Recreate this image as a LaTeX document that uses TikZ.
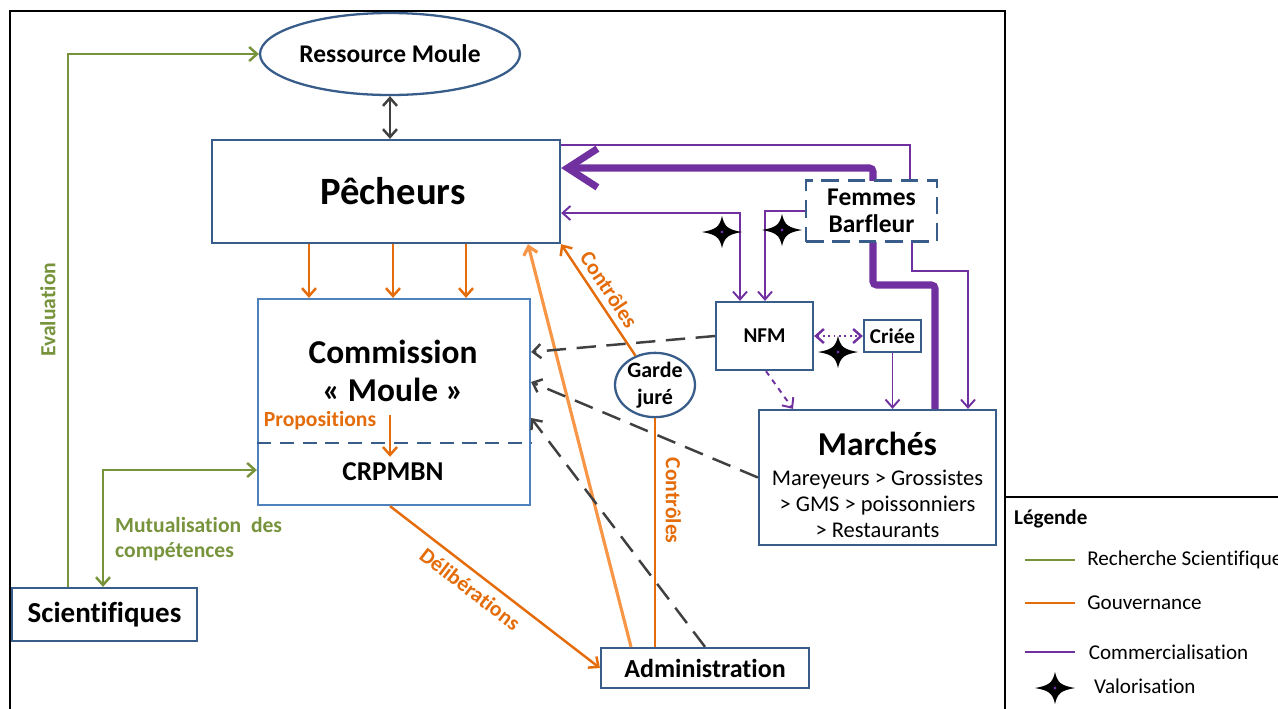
\documentclass[tikz,border=0pt]{standalone}
\usepackage{fontspec}
\setmainfont{Carlito}[Ligatures=NoCommon]
\usetikzlibrary{arrows.meta,shapes.geometric,backgrounds}
\definecolor{boxblue}{HTML}{385D8A}
\definecolor{lightblue}{HTML}{4F81BD}
\definecolor{rechgreen}{HTML}{77933C}
\definecolor{govorange}{HTML}{E46C0A}
\definecolor{govlight}{HTML}{F79646}
\definecolor{compurple}{HTML}{7030A0}
\definecolor{dgrey}{HTML}{404040}

\begin{document}
\begin{tikzpicture}[x=0.02cm,y=-0.02cm,
  >={Straight Barb[length=4.5pt,width=8pt]},
  box/.style={draw=boxblue,line width=1.3pt,fill=white,inner sep=0pt,align=center,font=\bfseries\fontsize{12}{15}\selectfont},
  rech/.style={rechgreen,line width=1.4pt},
  gov/.style={govorange,line width=1.4pt},
  govl/.style={govlight,line width=1.8pt},
  com/.style={compurple,line width=1.1pt},
  comthick/.style={compurple,line width=4pt,rounded corners=2pt},
  dashgrey/.style={dgrey,line width=1.4pt,dash pattern=on 11pt off 6pt},
  lab/.style={font=\bfseries\fontsize{12.3}{14.5}\selectfont},
  valo/.pic={
    \fill[black] (-20,0) .. controls (-6,-2.5) and (-2.5,-5) .. (0,-16) .. controls (2.5,-5) and (6,-2.5) .. (20,0)
      .. controls (6,2.5) and (2.5,5) .. (0,16) .. controls (-2.5,5) and (-6,2.5) .. (-20,0) -- cycle;
    \fill[compurple] (0,0) circle (0.9pt);
  }]
  \useasboundingbox (0,0) rectangle (1278,708);
  % cadres
  \draw[line width=1.2pt] (10,11) rectangle (1005,720);
  \draw[line width=1.2pt] (1005,497) rectangle (1290,720);

  % acteurs
  \node[box,ellipse,minimum width=5.2cm,minimum height=1.64cm,font=\bfseries\fontsize{14.5}{17}\selectfont] (ress) at (390,54) {Ressource Moule};
  \node[box,minimum width=6.96cm,minimum height=2.06cm] (pech) at (386,191.5) {};
  \node[font=\bfseries\fontsize{22}{26}\selectfont] (pechtxt) at (393,191) {Pêcheurs};
  \node[box,draw=lightblue,minimum width=5.44cm,minimum height=4.12cm] (comm) at (394,402) {};
  \node[font=\bfseries\fontsize{19}{22}\selectfont,align=center] (commtxt) at (393,371) {Commission\\«~Moule~»};
  \node[font=\bfseries\fontsize{15.5}{18}\selectfont] (crpm) at (393,472) {CRPMBN};
  \node[lab,govorange] (prop) at (320,421) {Propositions};
  \node[box,minimum width=3.7cm,minimum height=1.06cm,font=\bfseries\fontsize{16.5}{19}\selectfont] (sci) at (104.5,614.5) {Scientifiques};
  \node[box,minimum width=4.16cm,minimum height=0.8cm,font=\bfseries\fontsize{14.8}{17}\selectfont] (admin) at (705,668) {Administration};
  \node[box,ellipse,minimum width=1.6cm,minimum height=1.28cm,font=\bfseries\fontsize{12.5}{15}\selectfont] (garde) at (655,385) {Garde\\juré};
  \node[box,minimum width=1.94cm,minimum height=1.36cm] (nfm) at (764.5,336) {NFM};
  \node[box,minimum width=1.14cm,minimum height=0.64cm] (criee) at (892.5,336) {Criée};
  \node[box,dash pattern=on 10pt off 5pt,minimum width=2.62cm,minimum height=1.22cm,font=\bfseries\fontsize{14.5}{15}\selectfont] (femmes) at (871.5,211) {Femmes\\Barfleur};
  \node[box,minimum width=4.74cm,minimum height=2.7cm] (march) at (877.5,477.5) {};
  \node[align=center,font=\fontsize{12.8}{15}\selectfont] (marchtxt) at (877.5,485)
    {{\bfseries\fontsize{19}{21}\selectfont Marchés}\\[2pt] Mareyeurs > Grossistes\\ > GMS > poissonniers\\ > Restaurants};

  \draw[boxblue,line width=1.3pt,dash pattern=on 8pt off 5pt] (comm.west |- 0,443) -- (comm.east |- 0,443);

  % recherche scientifique
  \draw[rech,->] (sci.north -| 68,0) |- node[pos=.26,sloped,above=3pt,lab] {Evaluation} (ress.west);
  \draw[rech,<->] (sci.north -| 103,0) |- (comm.west |- 0,470);
  \node[lab,rechgreen,align=left,anchor=north west] (mutu) at (109,511) {Mutualisation~~des\\compétences};

  % gouvernance
  \draw[dgrey,line width=1.4pt,<->] (ress.south) -- (ress.south |- pech.north);
  \foreach \x in {309,393,466}
    \draw[gov,->] (pech.south -| \x,0) -- (comm.north -| \x,0);
  \coordinate (propsrc) at (390,415);
  \draw[gov,->] (propsrc) -- (propsrc |- crpm.north);
  \draw[gov,->] (comm.south -| 390,0) -- node[pos=.43,sloped,below=1pt,lab] {Délibérations} (admin.west);
  \draw[govl,->] (admin.north -| 631,0) -- (pech.south -| 528,0);
  \draw[gov] (garde) -- node[pos=.36,sloped,above=2pt,lab] {Contrôles} (admin.north -| 655,0);
  \draw[gov,<-] (pech.south east) -- node[pos=.48,sloped,above=0pt,lab] {Contrôles} (garde);
  \draw[dashgrey,->] (nfm.west) -- (comm.east |- 0,352);
  \draw[dashgrey,->] (march.west) -- (comm.east |- 0,382);
  \draw[dashgrey,->] (admin.north) -- (comm.east |- 0,418);

  % commercialisation
  \draw[com] (femmes.north -| 910,0) |- (pech.east |- 0,145);
  \coordinate (bend) at (873,285);
  \begin{pgfonlayer}{background}
    \draw[comthick,-{Straight Barb[length=17pt,width=22pt]}] (march.north -| 935,0) |- (bend) |- (pech.east |- 0,168);
  \end{pgfonlayer}
  \draw[com,<->] (pech.east |- 0,213) -| (nfm.north -| 740,0);
  \draw[com,->] (femmes.west) -| (nfm.north -| 765,0);
  \coordinate (fbend) at (968,271);
  \draw[com,->] (femmes.south -| 912,0) |- (fbend) -- (march.north -| 968,0);
  \draw[com,->] (criee.south) -- (criee.south |- march.north);
  \draw[com,dashed,->] (nfm.south -| 766,0) -- (march.north -| 793,0);
  \draw[com,dotted,line width=1.4pt,<->] (nfm) -- (criee);

  % valorisation
  \pic at (722,232) {valo};
  \pic at (782,230) {valo};
  \pic at (838,352) {valo};

  % legende
  \node[lab,anchor=west,font=\bfseries\fontsize{12}{14}\selectfont] (leg) at (1008,519) {Légende};
  \draw[rech] (1025,560) -- (1075,560) node[right=3pt,black,font=\fontsize{12}{14}\selectfont] (legr) {Recherche Scientifique};
  \draw[gov] (1025,603) -- (1075,603) node[right=3pt,black,font=\fontsize{12}{14}\selectfont] (legg) {Gouvernance};
  \draw[com] (1025,652) -- (1075,652) node[right=4pt,black,font=\fontsize{12}{14}\selectfont] (legc) {Commercialisation};
  \pic at (1055,688) {valo};
  \node[anchor=west,font=\fontsize{12}{14}\selectfont] (legv) at (1088,686) {Valorisation};
\end{tikzpicture}
\end{document}
